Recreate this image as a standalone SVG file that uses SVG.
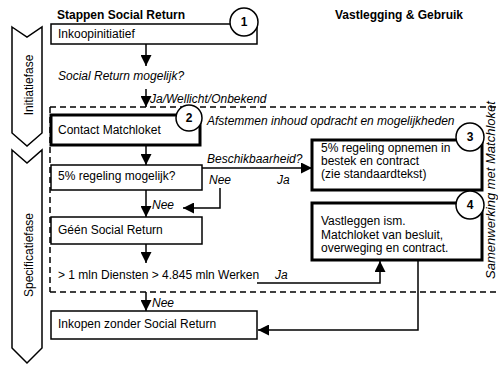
<svg xmlns="http://www.w3.org/2000/svg" width="498" height="365" viewBox="0 0 498 365">
<style>
text{font-family:"Liberation Sans",Arial,sans-serif;font-size:12px;fill:#000}
.b{font-weight:bold}
.i{font-style:italic}
.c{text-anchor:middle}
.thin{fill:#fff;stroke:#000;stroke-width:1.5}
.thick{fill:#fff;stroke:#000;stroke-width:3}
.circ{fill:#fff;stroke:#000;stroke-width:1.5}
.phase{fill:#fff;stroke:#000;stroke-width:1.5}
.dash{fill:none;stroke:#000;stroke-width:1.5;stroke-dasharray:6 4}
.con{fill:none;stroke:#000;stroke-width:1.5;marker-end:url(#ah)}
</style>
<defs>
<marker id="ah" markerUnits="userSpaceOnUse" markerWidth="11" markerHeight="11" refX="10" refY="5" orient="auto" viewBox="0 0 10 10">
<path d="M0,0 L10,5 L0,10 z" fill="#000"/>
</marker>
</defs>
<rect width="498" height="365" fill="#fff"/>

<g id="phase-initiatie">
<polygon class="phase" points="12,27 27,37 42,27 42,133 27,146 12,133"/>
<text transform="translate(33,85) rotate(-90)" class="c">Initiatiefase</text>
</g>
<g id="phase-specificatie">
<polygon class="phase" points="12,150 27,163 42,150 42,348 27,363 12,348"/>
<text transform="translate(33,255) rotate(-90)" class="c">Specificatiefase</text>
</g>

<g id="headers">
<text x="57" y="19" class="b">Stappen Social Return</text>
<text x="335" y="19" class="b">Vastlegging &amp; Gebruik</text>
</g>

<g id="matchloket-zone">
<path class="dash" d="M50,107 H498 M50,107 V292 M50,292 H498"/>
<text transform="translate(495,190) rotate(-90)" class="c i" style="font-size:13px">Samenwerking met Matchloket</text>
</g>

<g id="connectors">
<path class="con" d="M146,44 V66"/>
<path class="con" d="M146,89 V107"/>
<path class="con" d="M146,145 V165"/>
<path class="con" d="M202,168 H312"/>
<path class="con" d="M220,188 V208 H183"/>
<path class="con" d="M146,190 V217"/>
<path class="con" d="M146,244 V263"/>
<path class="con" d="M257,283 H380 V261"/>
<path class="con" d="M146,292 V311"/>
<path class="con" d="M418,260 V330 H258"/>
</g>

<g id="labels">
<text x="58" y="80" class="i">Social Return mogelijk?</text>
<text x="150" y="103" class="i">Ja/Wellicht/Onbekend</text>
<text x="207" y="125" class="i">Afstemmen inhoud opdracht en mogelijkheden</text>
<text x="207" y="163" class="i">Beschikbaarheid?</text>
<text x="209" y="184" class="i">Nee</text>
<text x="277" y="184" class="i">Ja</text>
<text x="152" y="209" class="i">Nee</text>
<text x="58" y="279">&gt; 1 mln Diensten &gt; 4.845 mln Werken</text>
<text x="275" y="279" class="i">Ja</text>
<text x="152" y="307" class="i">Nee</text>
</g>

<g id="node-inkoopinitiatief">
<rect class="thin" x="51" y="24" width="206" height="20"/>
<circle class="circ" cx="244" cy="22" r="14"/>
<text x="244" y="26" class="b c">1</text>
<text x="58" y="38">Inkoopinitiatief</text>
</g>

<g id="node-contact">
<rect class="thick" x="51" y="115" width="149" height="30"/>
<circle class="circ" cx="189" cy="118" r="13"/>
<text x="189" y="122" class="b c">2</text>
<text x="58" y="134">Contact Matchloket</text>
</g>

<g id="node-regeling">
<rect class="thin" x="51" y="165" width="151" height="25"/>
<text x="58" y="180">5% regeling mogelijk?</text>
</g>

<g id="node-geen">
<rect class="thin" x="51" y="217" width="151" height="27"/>
<text x="58" y="234">Géén Social Return</text>
</g>

<g id="node-inkopen">
<rect class="thin" x="51" y="311" width="206" height="28"/>
<text x="58" y="328">Inkopen zonder Social Return</text>
</g>

<g id="node-opnemen">
<rect class="thick" x="312" y="140" width="170" height="50"/>
<circle class="circ" cx="470" cy="137" r="14"/>
<text x="470" y="141" class="b c">3</text>
<text x="321" y="152">5% regeling opnemen in</text>
<text x="321" y="165">bestek en contract</text>
<text x="321" y="178">(zie standaardtekst)</text>
</g>

<g id="node-vastleggen">
<rect class="thick" x="312" y="203" width="170" height="57"/>
<circle class="circ" cx="470" cy="205" r="14"/>
<text x="470" y="209" class="b c">4</text>
<text x="321" y="225">Vastleggen ism.</text>
<text x="321" y="239">Matchloket van besluit,</text>
<text x="321" y="252">overweging en contract.</text>
</g>
</svg>
